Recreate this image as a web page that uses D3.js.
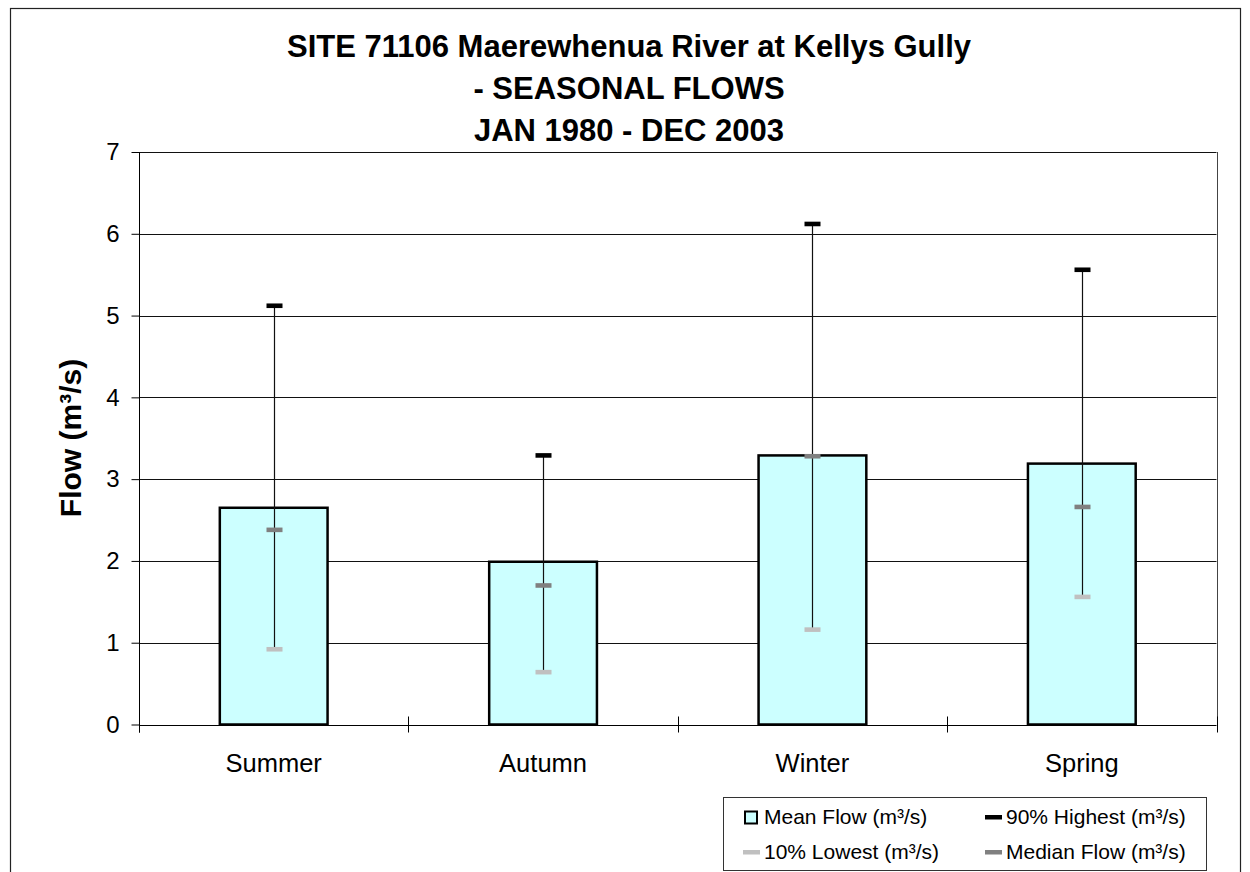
<!DOCTYPE html>
<html>
<head>
<meta charset="utf-8">
<script src="https://cdn.jsdelivr.net/npm/d3@7"></script>
<style>
  html, body { margin: 0; padding: 0; background: #fff; }
  svg { display: block; font-family: "Liberation Sans", Arial, sans-serif; }
</style>
</head>
<body>
<svg id="chart" width="1250" height="872"></svg>
<script>
const titleLines = ["SITE 71106 Maerewhenua River at Kellys Gully", "- SEASONAL FLOWS", "JAN 1980 - DEC 2003"];
const categories = ["Summer", "Autumn", "Winter", "Spring"];
const meanFlow = [2.65, 1.99, 3.29, 3.19];
const high90 = [5.12, 3.29, 6.12, 5.56];
const medianFlow = [2.38, 1.70, 3.28, 2.66];
const low10 = [0.92, 0.64, 1.16, 1.56];
const yTicks = [0, 1, 2, 3, 4, 5, 6, 7];
const yLabel = "Flow (m³/s)";
const legendLabels = ["Mean Flow (m³/s)", "90% Highest (m³/s)", "10% Lowest (m³/s)", "Median Flow (m³/s)"];

const svg = d3.select("#chart");

// outer chart border
svg.append("rect").attr("x", 10.5).attr("y", 8.5).attr("width", 1230).attr("height", 900)
  .attr("fill", "#fff").attr("stroke", "#222").attr("stroke-width", 1.2);

const plot = { left: 139, right: 1216.5, top: 152, bottom: 724.5 };

const x = d3.scaleBand().domain(categories).range([plot.left, plot.right])
  .paddingInner(0.6).paddingOuter(0.3);
const y = d3.scaleLinear().domain([0, 7]).range([plot.bottom, plot.top]);

// gridlines
svg.append("g").selectAll("line").data(yTicks.filter(d => d > 0)).join("line")
  .attr("x1", plot.left).attr("x2", plot.right)
  .attr("y1", d => Math.round(y(d)) + 0.5).attr("y2", d => Math.round(y(d)) + 0.5)
  .attr("stroke", "#111").attr("stroke-width", 1);

// plot area right border
svg.append("line").attr("x1", Math.round(plot.right) + 0.5).attr("x2", Math.round(plot.right) + 0.5)
  .attr("y1", plot.top).attr("y2", plot.bottom).attr("stroke", "#444").attr("stroke-width", 1);

// bars
svg.append("g").selectAll("rect").data(categories).join("rect")
  .attr("x", d => x(d))
  .attr("y", (d, i) => y(meanFlow[i]))
  .attr("width", x.bandwidth())
  .attr("height", (d, i) => y(0) - y(meanFlow[i]))
  .attr("fill", "#CCFFFF").attr("stroke", "#000").attr("stroke-width", 2.5);

// y axis
const yAxis = d3.axisLeft(y).tickValues(yTicks).tickSize(8).tickPadding(12).tickFormat(d3.format("d"));
const ya = svg.append("g").attr("transform", `translate(${plot.left + 0.5},0)`).call(yAxis);
ya.select(".domain").attr("stroke", "#000").attr("d", `M0,${plot.top}V${plot.bottom + 8}`);
ya.selectAll(".tick line").attr("stroke", "#000");
ya.selectAll(".tick text").attr("font-size", 24).attr("fill", "#000")
  .attr("font-family", "'Liberation Sans', Arial, sans-serif").attr("dy", "0.32em");

// x axis (cross ticks at category boundaries)
const xa = svg.append("g");
xa.append("line").attr("x1", plot.left).attr("x2", plot.right)
  .attr("y1", Math.round(y(0)) + 0.5).attr("y2", Math.round(y(0)) + 0.5).attr("stroke", "#000");
const step = x.step();
const bounds = d3.range(categories.length + 1).map(i => plot.left + i * step);
xa.selectAll("line.tk").data(bounds).join("line").attr("class", "tk")
  .attr("x1", d => Math.round(d) + 0.5).attr("x2", d => Math.round(d) + 0.5)
  .attr("y1", y(0) - 8).attr("y2", y(0) + 8).attr("stroke", "#000");
xa.selectAll("text").data(categories).join("text")
  .attr("x", d => x(d) + x.bandwidth() / 2).attr("y", 772)
  .attr("text-anchor", "middle").attr("font-size", 25.5).attr("fill", "#000").text(d => d);

// error bars
const eb = svg.append("g");
categories.forEach((c, i) => {
  const cx = Math.round(x(c) + x.bandwidth() / 2) + 0.5;
  eb.append("line").attr("x1", cx).attr("x2", cx)
    .attr("y1", y(low10[i])).attr("y2", y(high90[i]))
    .attr("stroke", "#111").attr("stroke-width", 1.2);
  [[low10[i], "#C0C0C0"], [medianFlow[i], "#808080"], [high90[i], "#000"]].forEach(([v, col]) => {
    eb.append("rect").attr("x", cx - 8).attr("y", y(v) - 2.3).attr("width", 16).attr("height", 4.6)
      .attr("fill", col);
  });
});

// title
svg.append("g").selectAll("text").data(titleLines).join("text")
  .attr("x", 629).attr("y", (d, i) => 57 + i * 42)
  .attr("text-anchor", "middle").attr("font-size", 31).attr("font-weight", "bold")
  .attr("fill", "#000").text(d => d);

// y label
svg.append("text").attr("transform", "translate(81,438) rotate(-90)")
  .attr("text-anchor", "middle").attr("font-size", 30).attr("font-weight", "bold")
  .attr("fill", "#000").text(yLabel);

// legend
const lg = svg.append("g");
lg.append("rect").attr("x", 723.5).attr("y", 797.5).attr("width", 483).attr("height", 73)
  .attr("fill", "#fff").attr("stroke", "#333").attr("stroke-width", 1);
const legendItems = [
  { label: legendLabels[0], type: "box", color: "#CCFFFF", col: 0, row: 0 },
  { label: legendLabels[1], type: "line", color: "#000", col: 1, row: 0 },
  { label: legendLabels[2], type: "line", color: "#C0C0C0", col: 0, row: 1 },
  { label: legendLabels[3], type: "line", color: "#808080", col: 1, row: 1 }
];
const colX = [743, 985];
const rowBase = [824, 859];
legendItems.forEach(it => {
  const sx = colX[it.col];
  const base = rowBase[it.row];
  if (it.type === "box") {
    lg.append("rect").attr("x", sx + 2).attr("y", base - 12.5).attr("width", 12).attr("height", 12)
      .attr("fill", it.color).attr("stroke", "#000").attr("stroke-width", 2);
  } else {
    lg.append("rect").attr("x", sx).attr("y", base - 9).attr("width", 17).attr("height", 4.5)
      .attr("fill", it.color);
  }
  lg.append("text").attr("x", sx + 21).attr("y", base).attr("font-size", 21)
    .attr("fill", "#000").text(it.label);
});
</script>
</body>
</html>
